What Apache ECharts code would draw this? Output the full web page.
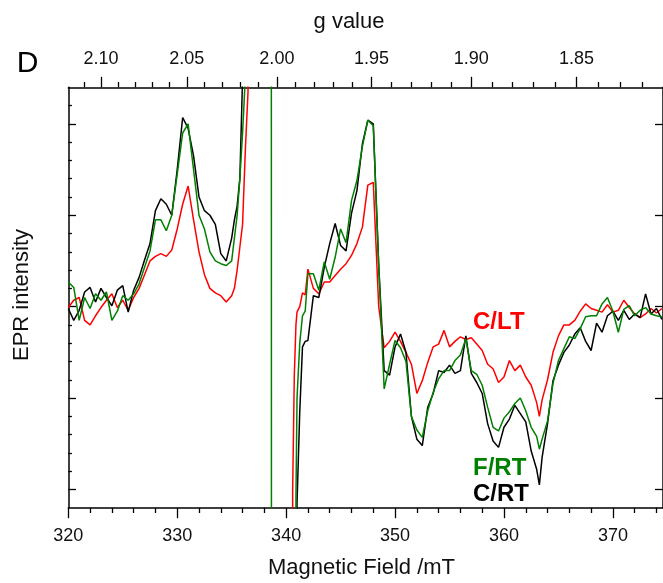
<!DOCTYPE html>
<html>
<head>
<meta charset="utf-8">
<script src="https://cdn.jsdelivr.net/npm/echarts@6/dist/echarts.min.js"></script>
<style>
  html, body { margin: 0; padding: 0; background: #fff; }
  #chart { width: 663px; height: 583px; }
</style>
</head>
<body>
<div id="chart"></div>
<script>
// Magnetic field sample positions (mT)
const fields = [
  320, 320.5, 321, 321.5, 322, 322.5, 323, 323.5, 324, 324.5, 325, 325.5, 326, 326.5, 327, 327.5,
  328, 328.5, 329, 329.5, 330, 330.5, 331, 331.5, 332, 332.5, 333, 333.5, 334, 334.5, 335,
  335.25, 335.5, 335.75, 336, 336.25, 336.5, 336.75, 337.5, 338.6, 338.7, 340.5, 340.6, 340.75, 340.9,
  341, 341.25, 341.5, 341.75, 342,
  342.5, 343, 343.5, 344, 344.5, 345, 345.5, 346, 346.5, 347, 347.5, 348, 348.5, 349, 349.5, 350,
  350.5, 351, 351.5, 352, 352.5, 353, 353.5, 354, 354.5, 355, 355.5, 356, 356.5, 357, 357.5, 358,
  358.5, 359, 359.5, 360, 360.5, 361, 361.5, 362, 362.5, 363, 363.25,
  363.5, 364, 364.5, 365, 365.5, 366, 366.5, 367, 367.5, 368, 368.5, 369, 369.5, 370, 370.5, 371,
  371.5, 372, 372.5, 373, 373.5, 374, 374.5
];

// EPR intensity (a.u.); +/-30 = off-scale part of the central line, null = hidden under F/RT
const cRT = [
  1.98, 1.85, 1.96, 2.16, 2.21, 2.05, 2.20, 2.10, 2.01, 2.18, 2.23, 1.94, 2.18, 2.32, 2.51, 2.69,
  3.05, 3.18, 3.12, 3.00, 3.50, 4.07, 3.95, 3.65, 3.20, 3.05, 3.00, 2.90, 2.58, 2.50, 2.75,
  2.95, 3.10, 3.40, 4.50, 30, 30, 30, 30, null, null, -30, -30, -30, -30,
  -0.15, 0.85, 1.56, 1.62, 1.63,
  2.12, 2.10, 2.43, 2.69, 2.91, 2.67, 2.61, 3.02, 3.27, 3.78, 4.04, 4.00, 2.45, 1.30, 1.25, 1.56,
  1.70, 1.50, 0.80, 0.55, 0.48, 0.90, 1.05, 1.30, 1.28, 1.36, 1.27, 1.30, 1.68, 1.27, 1.17, 1.05,
  0.72, 0.53, 0.46, 0.68, 0.77, 0.92, 0.83, 0.74, 0.42, 0.22, 0.05,
  0.35, 0.72, 1.19, 1.36, 1.50, 1.58, 1.70, 1.77, 1.62, 1.52, 1.82, 1.72, 1.90, 1.95, 1.85, 1.96,
  1.86, 1.92, 1.88, 2.14, 1.92, 1.98, 1.86
];

const fRT = [
  2.27, 2.21, 1.85, 2.10, 1.98, 2.14, 2.07, 2.16, 1.85, 1.95, 2.12, 2.07, 2.14, 2.25, 2.43, 2.61,
  2.95, 2.95, 2.83, 3.00, 3.45, 3.90, 4.00, 3.50, 3.00, 2.85, 2.60, 2.50, 2.47, 2.45, 2.50,
  2.75, 3.00, 3.40, 3.90, 4.50, 30, 30, 30, 30, -30, -30, -30, -30, -0.10,
  1.00, 1.60, 1.90, 1.95, 2.36,
  2.36, 2.18, 2.49, 2.30, 2.54, 2.85, 2.70, 3.16, 3.38, 3.75, 4.04, 3.98, 2.45, 1.10, 1.37, 1.63,
  1.55, 1.40, 0.80, 0.65, 0.57, 0.86, 1.06, 1.21, 1.30, 1.30, 1.41, 1.47, 1.65, 1.30, 1.26, 1.14,
  0.90, 0.68, 0.64, 0.78, 0.85, 0.94, 1.00, 0.86, 0.68, 0.58, 0.44,
  0.55, 0.75, 1.16, 1.41, 1.54, 1.67, 1.65, 1.76, 1.89, 1.90, 1.90, 2.03, 2.10, 1.95, 1.72, 1.97,
  2.01, 1.90, 1.96, 1.99, 1.92, 1.90, 1.89
];

const cLT = [
  1.99, 2.07, 2.10, 1.85, 1.80, 1.90, 1.99, 2.07, 2.14, 1.99, 2.07, 1.96, 2.10, 2.20, 2.35, 2.50,
  2.55, 2.58, 2.55, 2.62, 2.85, 3.12, 3.32, 2.95, 2.60, 2.35, 2.20, 2.15, 2.12, 2.05, 2.12,
  2.20, 2.40, 2.65, 2.90, 3.70, 4.35, 30, 30, null, null, -30, 0.00, 1.25, 1.80,
  1.94, 2.00, 2.15, 2.13, 2.41,
  2.20, 2.14, 2.27, 2.27, 2.34, 2.41, 2.47, 2.56, 2.69, 2.87, 3.33, 3.36, 2.00, 1.55, 1.62, 1.72,
  1.62, 1.50, 1.37, 1.05, 1.19, 1.39, 1.56, 1.59, 1.74, 1.56, 1.62, 1.67, 1.64, 1.66, 1.59, 1.52,
  1.37, 1.32, 1.17, 1.23, 1.41, 1.30, 1.36, 1.23, 1.14, 0.95, 0.80,
  0.98, 1.20, 1.50, 1.68, 1.80, 1.80, 1.85, 1.95, 2.03, 1.98, 1.96, 1.94, 2.02, 1.94, 1.96, 2.07,
  1.99, 1.92, 1.88, 1.92, 1.98, 1.93, 1.98
];

// Axis ticks
const fieldTicks = [320, 330, 340, 350, 360, 370];
const fieldMinorTicks = [322, 324, 326, 328, 332, 334, 336, 338, 342, 344, 346, 348, 352, 354, 356, 358, 362, 364, 366, 368, 372, 374];
const gTicks = [2.10, 2.05, 2.00, 1.95, 1.90, 1.85];
const gMinorTicks = [2.11, 2.09, 2.08, 2.07, 2.06, 2.04, 2.03, 2.02, 2.01, 1.99, 1.98, 1.97, 1.96, 1.94, 1.93, 1.92, 1.91, 1.89, 1.88, 1.87, 1.86, 1.84, 1.83, 1.82];
const yTicks = [0, 1, 2, 3, 4];
const yMinorTicks = [0.2, 0.4, 0.6, 0.8, 1.2, 1.4, 1.6, 1.8, 2.2, 2.4, 2.6, 2.8, 3.2, 3.4, 3.6, 3.8, 4.2];

// g = h*nu / (muB * B)  ->  B(mT) = G_B_PRODUCT / g
const G_B_PRODUCT = 678.3;
const X_MIN = 320, X_MAX = 374.6, Y_MIN = -0.2, Y_MAX = 4.4;

const FONT = '"Liberation Sans", Arial, sans-serif';
const black = '#000000', red = '#ff0000', green = '#008000';

const chart = echarts.init(document.getElementById('chart'), null, { renderer: 'canvas' });

const axisLineStyle = { color: black, width: 1.5 };
function xAx(position, tickVals, len, labelVals, formatter, showLine) {
  return {
    type: 'value', position: position, min: X_MIN, max: X_MAX,
    axisLine: { show: showLine, onZero: false, lineStyle: axisLineStyle },
    axisTick: { show: true, inside: false, length: len, customValues: tickVals, lineStyle: { color: black, width: 1.3 } },
    axisLabel: labelVals ? { show: true, customValues: labelVals, formatter: formatter, margin: 19,
      fontSize: 18, fontFamily: FONT, color: '#111' } : { show: false },
    splitLine: { show: false }
  };
}
function yAx(position, tickVals, len, showLine) {
  return {
    type: 'value', position: position, min: Y_MIN, max: Y_MAX,
    axisLine: { show: showLine, onZero: false, lineStyle: axisLineStyle },
    axisTick: { show: true, inside: true, length: len, customValues: tickVals, lineStyle: { color: black, width: 1.3 } },
    axisLabel: { show: false },
    splitLine: { show: false }
  };
}

const gPos = gTicks.map(g => G_B_PRODUCT / g);
const gMinorPos = gMinorTicks.map(g => G_B_PRODUCT / g);

function seriesOf(name, vals, color) {
  return {
    name: name, type: 'line', xAxisIndex: 0, yAxisIndex: 0,
    data: fields.map((f, i) => [f, vals[i] === null ? '-' : vals[i]]),
    showSymbol: false, symbol: 'none', clip: true, smooth: false, connectNulls: false,
    lineStyle: { color: color, width: 1.5 },
    itemStyle: { color: color },
    animation: false
  };
}

chart.setOption({
  animation: false,
  backgroundColor: '#ffffff',
  grid: { left: 68.3, top: 87.3, width: 595.7, height: 420.4, containLabel: false },
  xAxis: [
    xAx('bottom', fieldTicks, 10.5, fieldTicks, v => String(Math.round(v)), true),
    xAx('bottom', fieldMinorTicks, 5.3, null, null, false),
    xAx('top', gPos, 10.5, gPos, v => (G_B_PRODUCT / v).toFixed(2), true),
    xAx('top', gMinorPos, 5.3, null, null, false)
  ],
  yAxis: [
    yAx('left', yTicks, 7.7, true),
    yAx('left', yMinorTicks, 3.6, false),
    yAx('right', yTicks, 8, true)
  ],
  series: [
    seriesOf('C/LT', cLT, red),
    seriesOf('C/RT', cRT, black),
    seriesOf('F/RT', fRT, green)
  ],
  graphic: [
    { type: 'text', x: 27.5, y: 64, style: { text: 'D', font: '30px ' + FONT, fill: '#000', align: 'center', verticalAlign: 'middle' } },
    { type: 'text', x: 349, y: 22, style: { text: 'g value', font: '22px ' + FONT, fill: '#111', align: 'center', verticalAlign: 'middle' } },
    { type: 'text', x: 361.5, y: 568, style: { text: 'Magnetic Field /mT', font: '22px ' + FONT, fill: '#111', align: 'center', verticalAlign: 'middle' } },
    { type: 'text', x: 22, y: 295, rotation: Math.PI / 2, style: { text: 'EPR intensity', font: '22px ' + FONT, fill: '#111', align: 'center', verticalAlign: 'middle' } },
    { type: 'text', x: 473, y: 322.5, style: { text: 'C/LT', font: 'bold 24px ' + FONT, fill: red, align: 'left', verticalAlign: 'middle' } },
    { type: 'text', x: 473, y: 468, style: { text: 'F/RT', font: 'bold 24px ' + FONT, fill: green, align: 'left', verticalAlign: 'middle' } },
    { type: 'text', x: 473, y: 494, style: { text: 'C/RT', font: 'bold 24px ' + FONT, fill: black, align: 'left', verticalAlign: 'middle' } }
  ]
});
</script>
</body>
</html>
